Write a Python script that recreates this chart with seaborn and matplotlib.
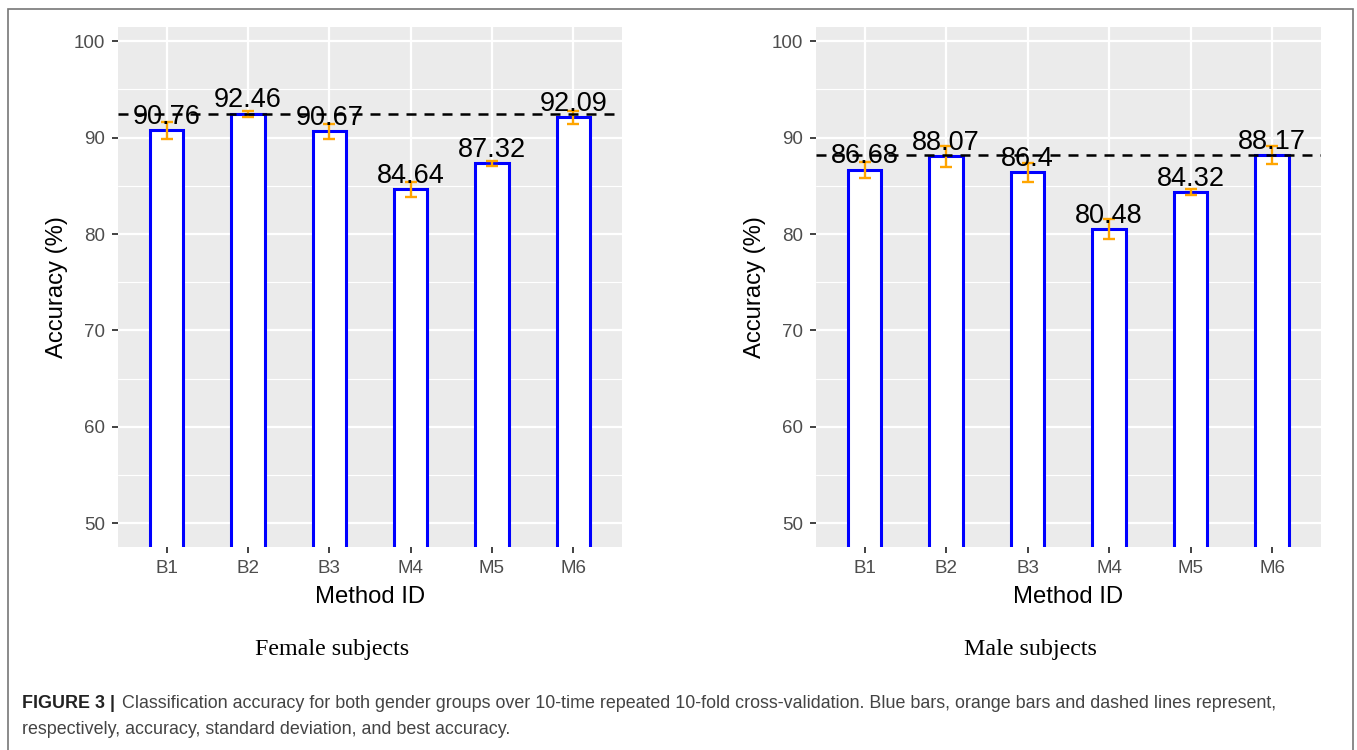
import matplotlib
matplotlib.use("Agg")
import matplotlib.pyplot as plt
import seaborn as sns
import pandas as pd
from matplotlib.patches import Rectangle

methods = ["B1", "B2", "B3", "M4", "M5", "M6"]
female_acc = [90.76, 92.46, 90.67, 84.64, 87.32, 92.09]
female_sd = [0.88, 0.30, 0.78, 0.75, 0.26, 0.64]
male_acc = [86.68, 88.07, 86.4, 80.48, 84.32, 88.17]
male_sd = [0.83, 1.09, 0.99, 1.04, 0.31, 0.94]
female_label = ["90.76", "92.46", "90.67", "84.64", "87.32", "92.09"]
male_label = ["86.68", "88.07", "86.4", "80.48", "84.32", "88.17"]
yticks = [50, 60, 70, 80, 90, 100]
subtitles = ["Female subjects", "Male subjects"]

sns.set_theme(style="darkgrid")
plt.rcParams['font.family'] = ['Liberation Sans', 'DejaVu Sans']

W, H = 1357, 750
fig = plt.figure(figsize=(W / 100, H / 100), dpi=100)

def px_axes(x0, y0, x1, y1):
    return fig.add_axes([x0 / W, 1 - y1 / H, (x1 - x0) / W, (y1 - y0) / H])

panels = [
    (px_axes(118, 26.7, 622, 546.7), female_acc, female_sd, female_label),
    (px_axes(815.7, 26.7, 1321, 546.7), male_acc, male_sd, male_label),
]

for ax, acc, sd, lab in panels:
    df = pd.DataFrame({"Method ID": methods, "Accuracy": acc})
    ax.set_facecolor("#EBEBEB")
    sns.barplot(data=df, x="Method ID", y="Accuracy", ax=ax, width=0.41,
                color="white", edgecolor="#0000FF", linewidth=2.2,
                errorbar=None, zorder=3)
    ax.errorbar(range(len(methods)), acc, yerr=sd, fmt="none",
                ecolor="#FFA500", elinewidth=1.7, capsize=4.6, capthick=1.7,
                zorder=4)
    ax.axhline(max(acc), color="black", linestyle=(0, (4, 3.2)),
               linewidth=1.8, zorder=5)
    for i, (v, t) in enumerate(zip(acc, lab)):
        ax.annotate(t, (i, v), xytext=(0, 4.6), textcoords="offset points",
                    ha="center", va="baseline", fontsize=19.5,
                    color="black", zorder=6)
    ax.set_xlim(-0.6, 5.6)
    ax.set_ylim(47.58, 101.5)
    ax.set_yticks(yticks)
    ax.set_yticks([55, 65, 75, 85, 95], minor=True)
    ax.grid(which="major", color="white", linewidth=1.6)
    ax.grid(which="minor", axis="y", color="white", linewidth=0.8)
    ax.set_axisbelow(True)
    for s in ax.spines.values():
        s.set_visible(False)
    ax.tick_params(axis="both", which="major", length=4.3, width=1.3,
                   color="#333333", labelcolor="#4D4D4D", labelsize=13.5,
                   bottom=True, left=True)
    ax.tick_params(axis="x", which="major", pad=5)
    ax.tick_params(axis="y", which="major", pad=5)
    ax.tick_params(axis="both", which="minor", length=0)
    ax.set_xlabel("Method ID", fontsize=17.2, color="black", labelpad=7)
    ax.set_ylabel("Accuracy (%)", fontsize=17.2, color="black", labelpad=4)

fig.text(332 / W, 1 - 649 / H, subtitles[0], family="Liberation Serif",
         fontsize=17.3, ha="center", va="center", color="black")
fig.text(1030 / W, 1 - 649 / H, subtitles[1], family="Liberation Serif",
         fontsize=17.3, ha="center", va="center", color="black")

fig.text(22 / W, 1 - 704 / H, "FIGURE 3 |", fontsize=12.9, weight="bold",
         ha="left", va="center", color="#222222")
fig.text(122 / W, 1 - 704 / H,
         "Classification accuracy for both gender groups over 10-time repeated "
         "10-fold cross-validation. Blue bars, orange bars and dashed lines represent,",
         fontsize=12.9, ha="left", va="center", color="#444444")
fig.text(22 / W, 1 - 729 / H,
         "respectively, accuracy, standard deviation, and best accuracy.",
         fontsize=12.9, ha="left", va="center", color="#444444")

fig.add_artist(Rectangle((8 / W, -0.05), (1353 - 8) / W, 1.05 - 9 / H,
                         transform=fig.transFigure, fill=False,
                         edgecolor="#777777", linewidth=1.2))

fig.savefig("out.png", dpi=100, facecolor="white")
